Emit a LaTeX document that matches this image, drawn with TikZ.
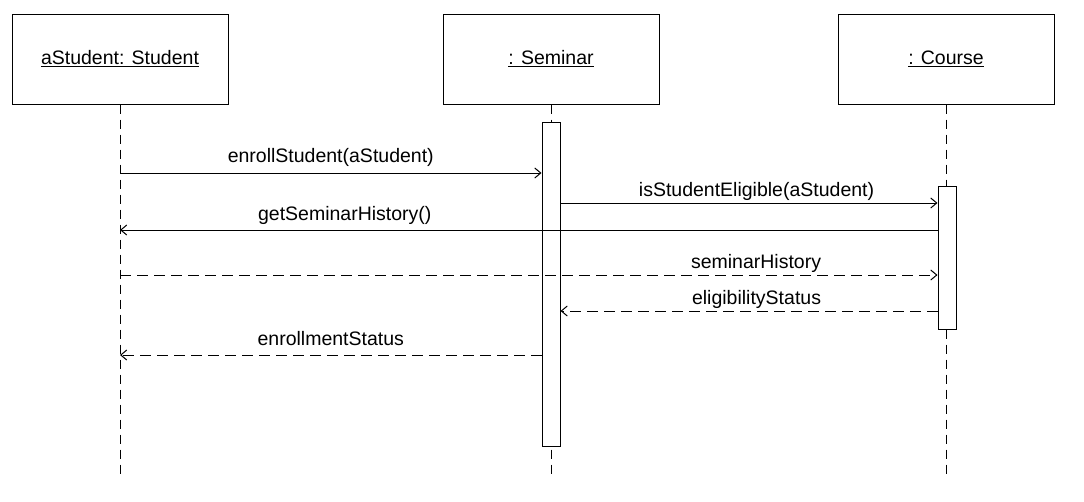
\documentclass[tikz,border=0pt]{standalone}
\usepackage{fontspec}
\setmainfont{Liberation Sans}
\usetikzlibrary{arrows.meta}
\begin{document}
\begin{tikzpicture}[x=1pt,y=-1pt,
  obj/.style={draw,line width=1pt,minimum width=216pt,minimum height=90pt,inner sep=0pt,font=\fontsize{19.5}{22}\selectfont},
  life/.style={line width=1pt,dash pattern=on 9pt off 6pt},
  act/.style={draw,fill=white,line width=1pt,minimum width=18pt,inner sep=0pt},
  msg/.style={line width=1pt,-{Straight Barb[length=6pt,width=10pt]}},
  ret/.style={msg,dash pattern=on 11pt off 6pt},
  lbl/.style={font=\fontsize{19.5}{22}\selectfont,inner sep=0pt,anchor=center}]
\useasboundingbox (0,0) rectangle (1084,501);
\node[obj] (st) at (120,59) {\underline{aStudent: Student}};
\node[obj] (se) at (551,59) {\underline{: Seminar}};
\node[obj] (co) at (946,59) {\underline{: Course}};
\coordinate (stE) at (120,477);
\coordinate (seE) at (551,477);
\coordinate (coE) at (946,477);
\draw[life] (st.south) -- (stE);
\draw[life] (se.south) -- (seE);
\draw[life] (co.south) -- (coE);
\node[act,minimum height=324pt] (sa) at (551,284) {};
\node[act,minimum height=143pt] (ca) at (947,257.5) {};
% messages
\coordinate (m1s) at (120,173); \coordinate (m1e) at (sa.west |- m1s);
\draw[msg] (m1s) -- (m1e) node[lbl,pos=0.5,yshift=16pt] {enrollStudent(aStudent)};
\coordinate (m2s) at (sa.east |- 0,203); \coordinate (m2e) at (ca.west |- m2s);
\draw[msg] (m2s) -- (m2e) node[lbl,pos=0.52,yshift=12pt] {isStudentEligible(aStudent)};
\coordinate (m3s) at (ca.west |- 0,230); \coordinate (m3e) at (120,230);
\draw[msg] (m3s) -- (m3e) node[lbl,pos=0.725,yshift=15pt] {getSeminarHistory()};
\coordinate (m4s) at (120,275); \coordinate (m4e) at (ca.west |- m4s);
\draw[ret] (m4s) -- (m4e) node[lbl,pos=0.778,yshift=12pt] {seminarHistory};
\coordinate (m5s) at (ca.west |- 0,311); \coordinate (m5e) at (sa.east |- m5s);
\draw[ret] (m5s) -- (m5e) node[lbl,pos=0.48,yshift=12pt] {eligibilityStatus};
\coordinate (m6s) at (sa.west |- 0,355); \coordinate (m6e) at (120,355);
\draw[ret] (m6s) -- (m6e) node[lbl,pos=0.5,yshift=16pt] {enrollmentStatus};
\end{tikzpicture}
\end{document}
